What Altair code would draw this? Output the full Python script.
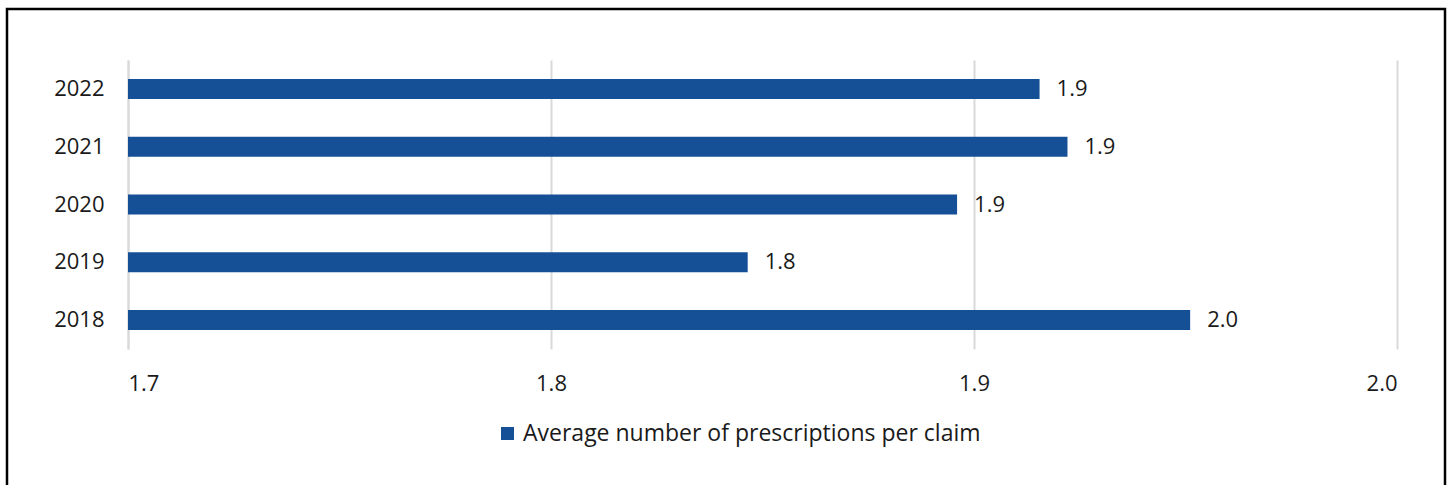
import altair as alt
import pandas as pd

years = ["2022", "2021", "2020", "2019", "2018"]
values = [1.9155, 1.9221, 1.8960, 1.8465, 1.9511]
series_name = "Average number of prescriptions per claim"
x_ticks = [1.7, 1.8, 1.9, 2.0]

BLUE = "#154F96"
GRID = "#d9d9d9"
TEXT = "#1a1a1a"
FONT = "Open Sans"
FS = 22

df = pd.DataFrame({"year": years, "value": values, "series": [series_name] * len(years)})

W, H = 1269, 289
LEFT, TOP = 128, 60

y_enc = alt.Y(
    "year:N", sort=years,
    scale=alt.Scale(paddingInner=0, paddingOuter=0),
    axis=alt.Axis(title=None, ticks=False, domain=True, domainColor=GRID, domainWidth=2,
                  labelPadding=24, labelFontSize=FS, labelColor=TEXT, grid=False),
)
x_enc = alt.X(
    "value:Q",
    scale=alt.Scale(domain=[1.7, 2.0], zero=False, nice=False),
    axis=alt.Axis(values=x_ticks, format=".1f", title=None, grid=True, gridColor=GRID,
                  gridWidth=2, domain=False, ticks=False, labelPadding=24,
                  labelFontSize=FS, labelColor=TEXT),
)

base = alt.Chart(df)
bars = base.mark_bar(size=20).encode(
    y=y_enc,
    x=x_enc,
    x2=alt.datum(1.7),
    color=alt.Color(
        "series:N", scale=alt.Scale(range=[BLUE]),
        legend=alt.Legend(title=None, orient="none", legendX=368, legendY=362,
                          symbolType="square", symbolSize=169, symbolStrokeWidth=0,
                          labelFontSize=23, labelColor=TEXT, labelOffset=4, labelLimit=0),
    ),
)
labels = base.mark_text(align="left", baseline="middle", dx=17, fontSize=FS, color=TEXT).encode(
    y=alt.Y("year:N", sort=years),
    x=alt.X("value:Q"),
    text=alt.Text("value:Q", format=".1f"),
)
frame = alt.Chart(pd.DataFrame({"f": [0]})).mark_rect(
    fill="white", fillOpacity=0, stroke="black", strokeWidth=2.5
).encode(
    x=alt.value(7 - LEFT), x2=alt.value(1445 - LEFT),
    y=alt.value(9 - TOP), y2=alt.value(520 - TOP),
)

chart = alt.layer(frame, bars, labels).properties(
    width=W, height=H,
    autosize=alt.AutoSizeParams(type="none"),
    padding={"left": LEFT, "top": TOP, "right": 1448 - LEFT - W, "bottom": 485 - TOP - H},
).configure(font=FONT, background="white").configure_view(strokeWidth=0, stroke="transparent")

chart.save("out.html", embed_options={"renderer": "svg", "actions": False})
